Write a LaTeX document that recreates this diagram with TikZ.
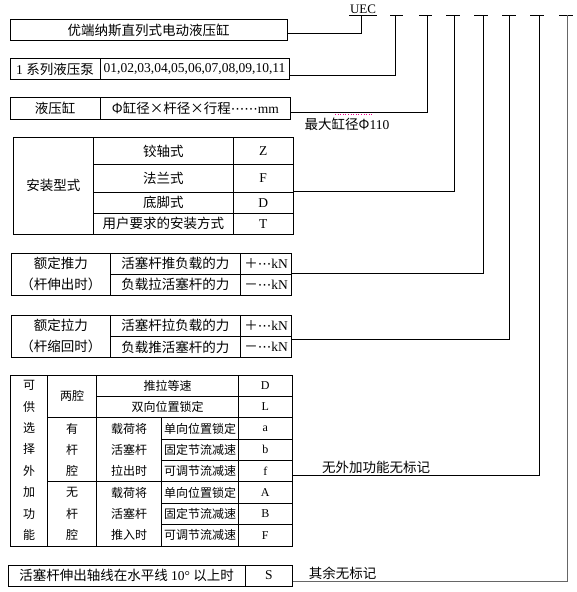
\documentclass[tikz,border=0pt]{standalone}
\usepackage{fontspec}
\setmainfont{Liberation Serif}
\newfontfamily\cjk{Noto Sans CJK SC}
\newfontfamily\dvs{DejaVu Sans}
\newcommand{\lat}[1]{{\rmfamily #1}}
\newcommand{\mdots}[1]{{\dvs #1}}
\begin{document}
\begin{tikzpicture}[x=1pt,y=-1pt,line width=0.9pt,
  cell/.style={draw, inner sep=0pt, outer sep=0pt, align=center, font=\fontsize{13.5}{16}\selectfont\cjk},
  twoline/.style={font=\fontsize{13.5}{20.85}\selectfont\cjk},
  small/.style={font=\fontsize{12}{21.375}\selectfont\cjk},
  lbl/.style={inner sep=0pt, font=\fontsize{13.5}{16}\selectfont\cjk},
  wire/.style={line width=0.9pt},
  lastwire/.style={line width=0.9pt, draw=black!60}]
\useasboundingbox (0,0) rectangle (576,592);

% ---- code header ----
\node[inner sep=0pt, anchor=base, font=\fontsize{13}{15}\selectfont\rmfamily] (uec) at (363,13.3) {UEC};
\draw[wire] (349,15) -- (377,15);
\coordinate (u0) at (361.7,15);
\foreach \a/\b/\v/\n in {390/403/395/1, 419/432/427/2, 446/460/454/3, 474/488/483.5/4, 502/516/509/5, 530/544/539/6, 559/573/567/7}{
  \draw[wire] (\a,15) -- (\b,15);
  \coordinate (t\n) at (\v,15);
}

% ---- top boxes ----
\node[cell, minimum width=277, minimum height=21.4] (b1) at (148.5,30) {优端纳斯直列式电动液压缸};
\node[cell, minimum width=90, minimum height=20.6] (b2a) at (55,69) {\lat{1 }系列液压泵};
\node[cell, minimum width=189, minimum height=20.6] (b2b) at (194.5,69) {\lat{01,02,03,04,05,06,07,08,09,10,11}};
\node[cell, minimum width=90, minimum height=22] (b3a) at (55,108.3) {液压缸};
\node[cell, minimum width=190.7, minimum height=22] (b3b) at (195.35,108.3) {Φ缸径×杆径×行程\mdots{⋯⋯}\lat{mm}};

% ---- mounting ----
\node[cell, minimum width=80, minimum height=97] (m0) at (53.3,185.8) {安装型式};
\node[cell, minimum width=140, minimum height=27.4] (mZt) at (163.3,151) {铰轴式};
\node[cell, minimum width=59.7, minimum height=27.4] (mZ) at (263.15,151) {\lat{Z}};
\node[cell, minimum width=140, minimum height=27.6] (mFt) at (163.3,178.5) {法兰式};
\node[cell, minimum width=59.7, minimum height=27.6] (mF) at (263.15,178.5) {\lat{F}};
\node[cell, minimum width=140, minimum height=21] (mDt) at (163.3,202.8) {底脚式};
\node[cell, minimum width=59.7, minimum height=21] (mD) at (263.15,202.8) {\lat{D}};
\node[cell, minimum width=140, minimum height=21] (mTt) at (163.3,223.8) {用户要求的安装方式};
\node[cell, minimum width=59.7, minimum height=21] (mT) at (263.15,223.8) {\lat{T}};

% ---- push force ----
\node[cell, twoline, minimum width=98.3, minimum height=41.7] (p0) at (60.85,274.15) {额定推力\\（杆伸出时）};
\node[cell, minimum width=130.7, minimum height=21] (p1t) at (175.35,263.8) {活塞杆推负载的力};
\node[cell, minimum width=51, minimum height=21] (p1) at (266.2,263.8) {＋\mdots{⋯}\lat{kN}};
\node[cell, minimum width=130.7, minimum height=20.7] (p2t) at (175.35,284.65) {负载拉活塞杆的力};
\node[cell, minimum width=51, minimum height=20.7] (p2) at (266.2,284.65) {－\mdots{⋯}\lat{kN}};

% ---- pull force ----
\node[cell, twoline, minimum width=98.3, minimum height=42.7] (q0) at (60.85,336.35) {额定拉力\\（杆缩回时）};
\node[cell, minimum width=130.7, minimum height=21] (q1t) at (175.35,325.5) {活塞杆拉负载的力};
\node[cell, minimum width=51, minimum height=21] (q1) at (266.2,325.5) {＋\mdots{⋯}\lat{kN}};
\node[cell, minimum width=130.7, minimum height=21.7] (q2t) at (175.35,346.85) {负载推活塞杆的力};
\node[cell, minimum width=51, minimum height=21.7] (q2) at (266.2,346.85) {－\mdots{⋯}\lat{kN}};

% ---- optional functions ----
\node[cell, small, minimum width=37, minimum height=171] (o0) at (29.2,460.5) {可\\供\\选\\择\\外\\加\\功\\能};
\node[cell, small, minimum width=49, minimum height=42.75] (o2c) at (72.2,396.4) {两腔};
\node[cell, small, minimum width=141.6, minimum height=21.375] (oDt) at (167.5,385.69) {推拉等速};
\node[cell, small, minimum width=54, minimum height=21.375] (oD) at (265.3,385.69) {\lat{D}};
\node[cell, small, minimum width=141.6, minimum height=21.375] (oLt) at (167.5,407.06) {双向位置锁定};
\node[cell, small, minimum width=54, minimum height=21.375] (oL) at (265.3,407.06) {\lat{L}};
\node[cell, small, minimum width=49, minimum height=64.125] (oR) at (72.2,449.81) {有\\杆\\腔};
\node[cell, small, minimum width=65, minimum height=64.125] (oRa) at (129.2,449.81) {载荷将\\活塞杆\\拉出时};
\node[cell, small, minimum width=76.6, minimum height=21.375] (oat) at (200,428.44) {单向位置锁定};
\node[cell, small, minimum width=54, minimum height=21.375] (oa) at (265.3,428.44) {\lat{a}};
\node[cell, small, minimum width=76.6, minimum height=21.375] (obt) at (200,449.81) {固定节流减速};
\node[cell, small, minimum width=54, minimum height=21.375] (ob) at (265.3,449.81) {\lat{b}};
\node[cell, small, minimum width=76.6, minimum height=21.375] (oft) at (200,471.19) {可调节流减速};
\node[cell, small, minimum width=54, minimum height=21.375] (of) at (265.3,471.19) {\lat{f}};
\node[cell, small, minimum width=49, minimum height=64.125] (oN) at (72.2,513.94) {无\\杆\\腔};
\node[cell, small, minimum width=65, minimum height=64.125] (oNa) at (129.2,513.94) {载荷将\\活塞杆\\推入时};
\node[cell, small, minimum width=76.6, minimum height=21.375] (oAt) at (200,492.56) {单向位置锁定};
\node[cell, small, minimum width=54, minimum height=21.375] (oA) at (265.3,492.56) {\lat{A}};
\node[cell, small, minimum width=76.6, minimum height=21.375] (oBt) at (200,513.94) {固定节流减速};
\node[cell, small, minimum width=54, minimum height=21.375] (oB) at (265.3,513.94) {\lat{B}};
\node[cell, small, minimum width=76.6, minimum height=21.375] (oFt) at (200,535.31) {可调节流减速};
\node[cell, small, minimum width=54, minimum height=21.375] (oF) at (265.3,535.31) {\lat{F}};

% ---- S ----
\node[cell, minimum width=236.7, minimum height=21] (sT) at (126.65,575.5) {活塞杆伸出轴线在水平线\lat{ 10° }以上时};
\node[cell, minimum width=47.7, minimum height=21] (sS) at (268.85,575.5) {\lat{S}};

% ---- labels ----
\node[lbl] (maxd) at (347,124) {最大缸径Φ\lat{110}};
\node[lbl] (nofn) at (376,467) {无外加功能无标记};
\node[lbl] (rest) at (342.5,573) {其余无标记};
\draw[magenta, dotted, line width=0.6pt] (335,114) -- (373,114);

% ---- connectors ----
\draw[wire] ([yshift=-3pt]b1.east) -| (u0);
\draw[wire] ([yshift=-6pt]b2b.east) -| (t1);
\draw[wire] ([yshift=-3.7pt]b3b.east) -| (t2);
\draw[wire] ([yshift=-12.5pt]mF.east) -| (t3);
\draw[wire] ([yshift=1.3pt]p1.south east) -| (t4);
\draw[wire] ([yshift=-3pt]q2.north east) -| (t5);
\draw[wire] ([yshift=-3.8pt]of.east) -| (t6);
\draw[lastwire] ([yshift=-5.5pt]sS.east) -| (t7);
\end{tikzpicture}
\end{document}
